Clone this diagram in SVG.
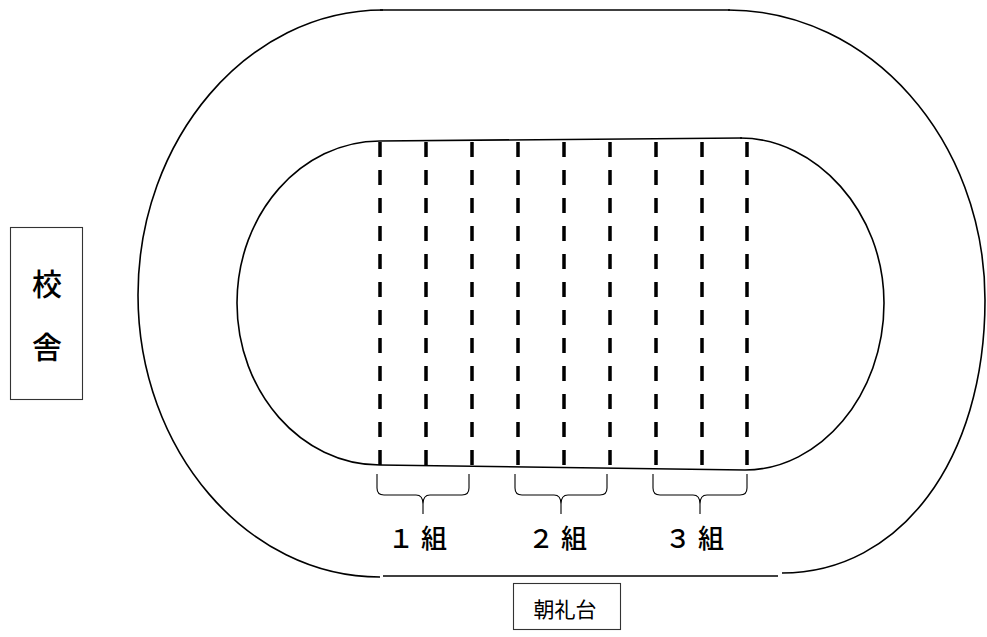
<svg xmlns="http://www.w3.org/2000/svg" width="987" height="637" viewBox="0 0 987 637">
<style>
.trk{fill:none;stroke:#000;stroke-width:1.6}
.lane{fill:none;stroke:#000;stroke-width:3.5;stroke-dasharray:15 13}
.brace{fill:none;stroke:#000;stroke-width:1.1}
.box{fill:#fff;stroke:#333;stroke-width:1.1}
.lbl{font-family:"Noto Sans CJK JP","Noto Sans CJK SC",sans-serif;fill:#000}
.grp{font-weight:500}
</style>
<rect width="987" height="637" fill="#fff"/>
<g id="outer-track">
<path class="trk" d="M383,10 C247,10 138,140 138,295 C138,450 247,577 380,577"/>
<path class="trk" d="M380,10 L730,10"/>
<path class="trk" d="M728,10 C870,10 985,140 985,300 C985,460 900,573 782,573"/>
<path class="trk" d="M383,576 L778,576"/>
</g>
<g id="inner-field">
<path class="trk" d="M380,141 C301,141 237,214 237,303 C237,392 301,465 380,465"/>
<path class="trk" d="M380,141 L742,138"/>
<path class="trk" d="M740,138 C816,138 884,212 884,303 C884,395 820,470 745,470"/>
<path class="trk" d="M380,465 L745,470"/>
</g>
<g id="lanes">
<line class="lane" x1="380" y1="142" x2="380" y2="466"/>
<line class="lane" x1="426" y1="142" x2="426" y2="466"/>
<line class="lane" x1="472" y1="142" x2="472" y2="466"/>
<line class="lane" x1="518" y1="142" x2="518" y2="466"/>
<line class="lane" x1="564" y1="142" x2="564" y2="466"/>
<line class="lane" x1="610" y1="142" x2="610" y2="466"/>
<line class="lane" x1="656" y1="142" x2="656" y2="466"/>
<line class="lane" x1="702" y1="142" x2="702" y2="466"/>
<line class="lane" x1="747" y1="142" x2="747" y2="466"/>
</g>
<g id="class1">
<path class="brace" d="M377,474 V488 Q377,495 384,495 H416 Q423,495 423,504 V514 M423,504 Q423,495 430,495 H462 Q469,495 469,488 V474"/>
<text class="lbl grp" x="388" y="548" font-size="26" letter-spacing="7">１組</text>
</g>
<g id="class2">
<path class="brace" d="M515,474 V488 Q515,495 522,495 H554 Q561,495 561,504 V514 M561,504 Q561,495 568,495 H600 Q607,495 607,488 V474"/>
<text class="lbl grp" x="528" y="548" font-size="26" letter-spacing="7">２組</text>
</g>
<g id="class3">
<path class="brace" d="M653,474 V488 Q653,495 660,495 H693 Q700,495 700,504 V514 M700,504 Q700,495 707,495 H740 Q747,495 747,488 V474"/>
<text class="lbl grp" x="665" y="548" font-size="26" letter-spacing="7">３組</text>
</g>
<g id="school-building">
<rect class="box" x="10.5" y="227.5" width="72" height="172"/>
<text class="lbl grp" x="47" y="295" font-size="30" text-anchor="middle">校</text>
<text class="lbl grp" x="47" y="358" font-size="30" text-anchor="middle">舎</text>
</g>
<g id="stage">
<rect class="box" x="513.5" y="583.5" width="107" height="46"/>
<text class="lbl" x="565" y="617" font-size="21" text-anchor="middle">朝礼台</text>
</g>
</svg>
